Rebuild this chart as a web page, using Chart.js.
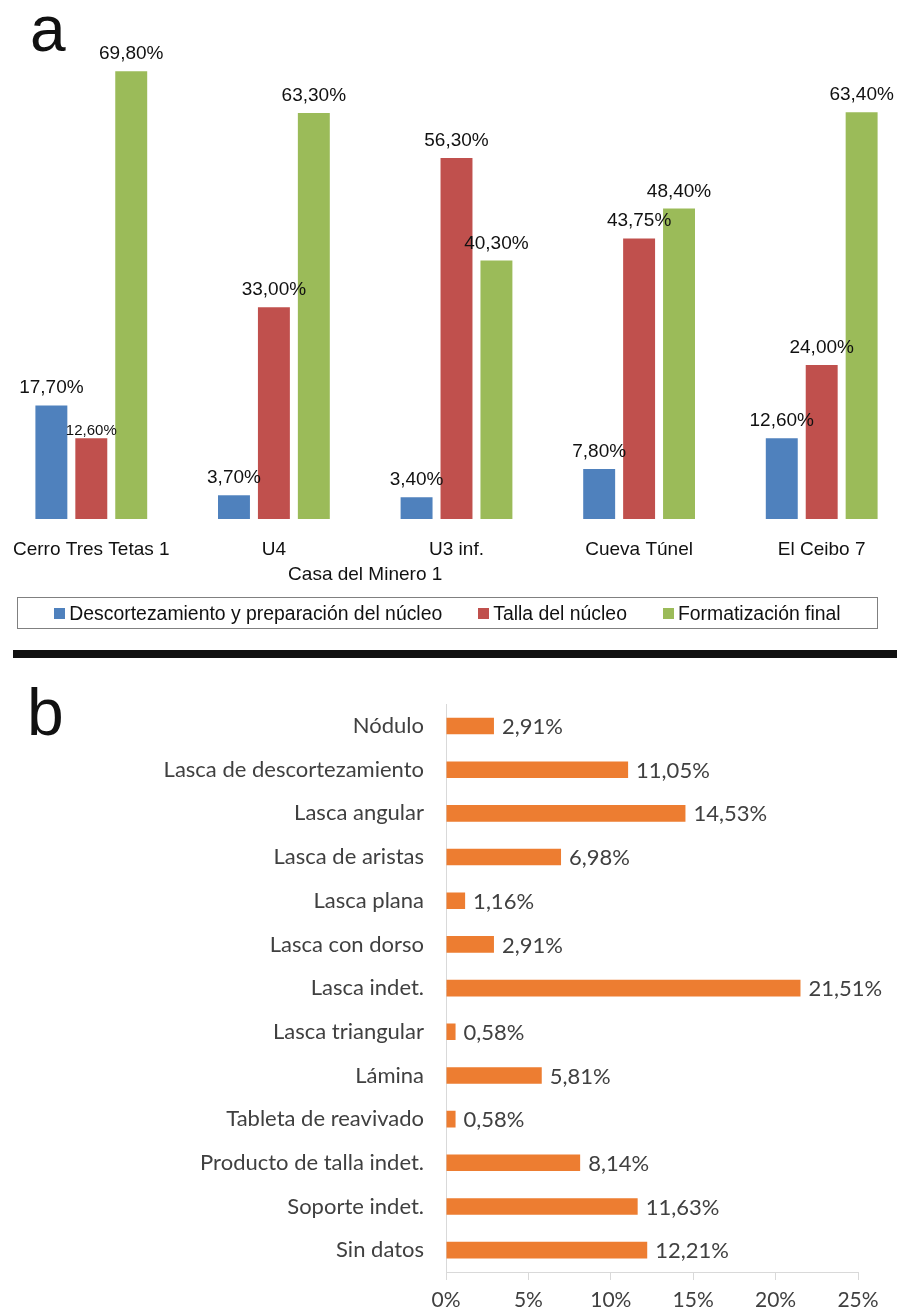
<!DOCTYPE html>
<html>
<head>
<meta charset="utf-8">
<script src="https://cdn.jsdelivr.net/npm/chart.js@4"></script>
<style>
  body { margin: 0; background: #fff; }
  #page { position: relative; width: 897px; height: 1312px; overflow: hidden; background: #fff; }
  .letra { position: absolute; font-family: "Liberation Sans", Arial, sans-serif; color: #111; line-height: 1; }
  #chartA { position: absolute; left: 0; top: 0; }
  #chartB { position: absolute; left: 0; top: 669px; }
  #leyenda {
    position: absolute; left: 17px; top: 597px; width: 859px; height: 30px;
    border: 1px solid #808080; display: flex; justify-content: center; align-items: center; gap: 36px;
    font-family: "Liberation Sans", Arial, sans-serif; font-size: 19.4px; color: #111;
  }
  #leyenda span.caja { display: inline-block; width: 11px; height: 11px; margin-right: 4px; vertical-align: 1px; }
  #separador { position: absolute; left: 13px; top: 650px; width: 884px; height: 8px; background: #111; }
</style>
</head>
<body>
<div id="page">
  <canvas id="chartA" width="913" height="600"></canvas>
  <div class="letra" style="left:30px; top:-3px; font-size:64px;">a</div>
  <div id="leyenda"></div>
  <div id="separador"></div>
  <div class="letra" style="left:27px; top:679px; font-size:66px;">b</div>
  <canvas id="chartB" width="897" height="653"></canvas>
</div>
<script>
// Panel a: etapas de reducción por sitio
const sitios = ['Cerro Tres Tetas 1', 'U4', 'U3 inf.', 'Cueva Túnel', 'El Ceibo 7'];
const descortezamiento = [17.7, 3.7, 3.4, 7.8, 12.6];
const tallaNucleo = [12.6, 33.0, 56.3, 43.75, 24.0];
const formatizacion = [69.8, 63.3, 40.3, 48.4, 63.4];
const grupoNombre = 'Casa del Minero 1';
const grupoSitios = [1, 2];
const seriesNombres = ['Descortezamiento y preparación del núcleo', 'Talla del núcleo', 'Formatización final'];

// Panel b: productos
const productos = ['Nódulo', 'Lasca de descortezamiento', 'Lasca angular', 'Lasca de aristas', 'Lasca plana',
  'Lasca con dorso', 'Lasca indet.', 'Lasca triangular', 'Lámina', 'Tableta de reavivado',
  'Producto de talla indet.', 'Soporte indet.', 'Sin datos'];
const porcentajes = [2.91, 11.05, 14.53, 6.98, 1.16, 2.91, 21.51, 0.58, 5.81, 0.58, 8.14, 11.63, 12.21];
const ticksB = [0, 5, 10, 15, 20, 25];

const colores = ['#4f81bd', '#c0504d', '#9bbb59'];
const fmt = v => v.toFixed(2).replace('.', ',') + '%';

// legend (html box like the original)
const leyenda = document.getElementById('leyenda');
seriesNombres.forEach((n, i) => {
  const d = document.createElement('div');
  d.innerHTML = '<span class="caja" style="background:' + colores[i] + '"></span>' + n;
  leyenda.appendChild(d);
});

const etiquetasA = {
  id: 'etiquetasA',
  afterDatasetsDraw(chart) {
    const ctx = chart.ctx;
    ctx.save();
    ctx.fillStyle = '#111';
    ctx.textAlign = 'center';
    chart.data.datasets.forEach((ds, di) => {
      chart.getDatasetMeta(di).data.forEach((bar, i) => {
        // the crowded one in the first group is set smaller in the original
        if (di === 1 && i === 0) {
          ctx.font = '15px "Liberation Sans", Arial, sans-serif';
          ctx.fillText(fmt(ds.data[i]), bar.x, bar.y - 3);
        } else {
          ctx.font = '19px "Liberation Sans", Arial, sans-serif';
          ctx.fillText(fmt(ds.data[i]), bar.x, bar.y - 12);
        }
      });
    });
    // site names under the bars
    const x = chart.scales.x;
    const base = chart.chartArea.bottom;
    ctx.font = '19px "Liberation Sans", Arial, sans-serif';
    ctx.textBaseline = 'middle';
    sitios.forEach((s, i) => ctx.fillText(s, x.getPixelForValue(i), base + 31));
    const gx = (x.getPixelForValue(grupoSitios[0]) + x.getPixelForValue(grupoSitios[1])) / 2;
    ctx.fillText(grupoNombre, gx, base + 56);
    ctx.restore();
  }
};

new Chart(document.getElementById('chartA'), {
  type: 'bar',
  data: {
    labels: sitios,
    datasets: [descortezamiento, tallaNucleo, formatizacion].map((d, i) => ({
      label: seriesNombres[i],
      data: d,
      backgroundColor: colores[i],
      categoryPercentage: 0.656,
      barPercentage: 0.8
    }))
  },
  options: {
    responsive: false,
    animation: false,
    layout: { padding: { top: 70, bottom: 81, left: 0, right: 0 } },
    scales: {
      x: { display: false },
      y: { display: false, min: 0, max: 70 }
    },
    plugins: { legend: { display: false }, tooltip: { enabled: false } }
  },
  plugins: [etiquetasA]
});

const etiquetasB = {
  id: 'etiquetasB',
  afterDatasetsDraw(chart) {
    const ctx = chart.ctx;
    ctx.save();
    ctx.fillStyle = '#404040';
    ctx.font = '22px Lato, sans-serif';
    ctx.textBaseline = 'middle';
    chart.getDatasetMeta(0).data.forEach((bar, i) => {
      ctx.fillText(fmt(porcentajes[i]), bar.x + 8, bar.y + 1);
    });
    ctx.restore();
  }
};

new Chart(document.getElementById('chartB'), {
  type: 'bar',
  data: {
    labels: productos,
    datasets: [{
      data: porcentajes,
      backgroundColor: '#ed7d31',
      barPercentage: 0.38,
      categoryPercentage: 1
    }]
  },
  options: {
    indexAxis: 'y',
    responsive: false,
    animation: false,
    layout: { padding: { top: 13, right: 39, left: 0, bottom: 0 } },
    scales: {
      x: {
        min: 0, max: 25,
        afterBuildTicks: s => { s.ticks = ticksB.map(v => ({ value: v })); },
        afterFit: s => { s.height = 50; },
        ticks: { callback: v => v + '%', color: '#404040', font: { family: 'Lato', size: 21 }, padding: 8 },
        grid: { drawOnChartArea: false, drawTicks: true, tickLength: 8, color: '#d9d9d9' },
        border: { color: '#d9d9d9' }
      },
      y: {
        afterFit: s => { s.width = 446; },
        ticks: { color: '#404040', font: { family: 'Lato', size: 22 }, padding: 22 },
        grid: { display: false, drawTicks: false },
        border: { color: '#d9d9d9' }
      }
    },
    plugins: { legend: { display: false }, tooltip: { enabled: false } }
  },
  plugins: [etiquetasB]
});
</script>
</body>
</html>
